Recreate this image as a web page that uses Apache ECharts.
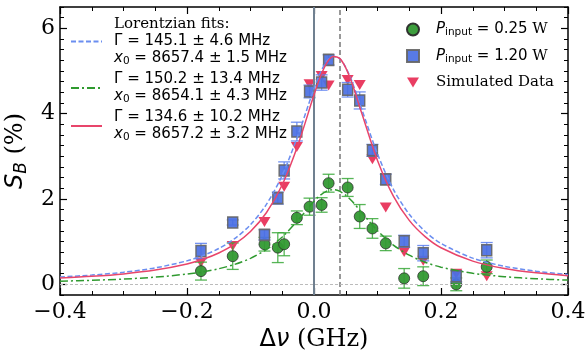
<!DOCTYPE html>
<html>
<head>
<meta charset="utf-8">
<script src="https://cdn.jsdelivr.net/npm/echarts@6/dist/echarts.min.js"></script>
<style>
  html, body { margin: 0; padding: 0; background: #fff; }
  #chart { width: 586px; height: 354px; }
</style>
</head>
<body>
<div id="chart"></div>
<script>
// detuning of the measured / simulated points (GHz)
const detuning = [-0.178, -0.128, -0.078, -0.057, -0.047, -0.027, -0.007, 0.012, 0.023, 0.053, 0.072, 0.092, 0.113, 0.142, 0.172, 0.224, 0.272]

// P_input = 0.25 W
const lowPower = [0.31, 0.66, 0.94, 0.86, 0.94, 1.56, 1.82, 1.86, 2.37, 2.27, 1.59, 1.31, 0.96, 0.14, 0.19, 0.0, 0.41]
const lowPowerErr = [0.21, 0.31, 0.16, 0.35, 0.27, 0.16, 0.2, 0.17, 0.21, 0.21, 0.28, 0.23, 0.17, 0.23, 0.22, 0.15, 0.16]

// P_input = 1.20 W
const highPower = [0.78, 1.45, 1.16, 2.02, 2.67, 3.58, 4.52, 4.73, 5.26, 4.56, 4.31, 3.14, 2.46, 1.01, 0.73, 0.19, 0.8]
const highPowerErr = [0.18, 0.06, 0.12, 0.14, 0.2, 0.22, 0.15, 0.18, 0.12, 0.17, 0.2, 0.14, 0.12, 0.14, 0.18, 0.13, 0.18]

// simulation (null = no point at that detuning)
const simulated = [0.51, 0.9, 1.46, null, 2.29, 3.22, 4.69, 4.88, 4.66, 4.79, 4.67, 2.93, 1.8, 0.76, 0.55, 0.25, 0.19]

// fitted curves
const fitX = [-0.4, -0.35, -0.3, -0.25, -0.2, -0.175, -0.15, -0.125, -0.1, -0.075, -0.05, -0.025, 0, 0.01, 0.02, 0.03, 0.04, 0.05, 0.06, 0.075, 0.1, 0.125, 0.15, 0.175, 0.2, 0.25, 0.3, 0.35, 0.4]
const fitHigh = [0.171, 0.217, 0.283, 0.385, 0.55, 0.673, 0.839, 1.07, 1.398, 1.872, 2.558, 3.503, 4.588, 4.96, 5.228, 5.347, 5.295, 5.083, 4.746, 4.115, 3.056, 2.226, 1.641, 1.239, 0.959, 0.614, 0.423, 0.307, 0.233]
const fitLow = [0.074, 0.094, 0.123, 0.168, 0.24, 0.293, 0.366, 0.467, 0.61, 0.815, 1.11, 1.508, 1.946, 2.089, 2.186, 2.22, 2.186, 2.089, 1.946, 1.686, 1.257, 0.921, 0.683, 0.518, 0.402, 0.259, 0.179, 0.131, 0.099]
const fitSim = [0.148, 0.188, 0.245, 0.334, 0.478, 0.587, 0.735, 0.941, 1.239, 1.678, 2.334, 3.28, 4.442, 4.867, 5.186, 5.341, 5.301, 5.075, 4.706, 4.02, 2.904, 2.067, 1.499, 1.119, 0.858, 0.544, 0.372, 0.269, 0.204]

// fit parameters shown in the legend (MHz)
const fitGamma = ["145.1 ± 4.6", "150.2 ± 13.4", "134.6 ± 10.2"]
const fitCenter = ["8657.4 ± 1.5", "8654.1 ± 4.3", "8657.2 ± 3.2"]

// reference lines: zero detuning and fitted centre
const refX = [0, 0.0373]

const yTicks = [0, 2, 4, 6]

const pts = (ys) => detuning.map((x, i) => [x, ys[i]]).filter((p) => p[1] !== null)
const curve = (ys) => fitX.map((x, i) => [x, ys[i]])

const fitLabel = (i, first) =>
  (first ? "{serif|Lorentzian fits:}\n" : "") +
  `{m|Γ = ${fitGamma[i]} MHz}\n{mi|x}{sub|0}{m| = ${fitCenter[i]} MHz}`

const legendRich = {
  serif: { fontFamily: "DejaVu Serif", fontSize: 15, lineHeight: 17, color: "#000" },
  m: { fontFamily: "DejaVu Sans", fontSize: 15, lineHeight: 17, color: "#000" },
  mi: { fontFamily: "DejaVu Sans", fontStyle: "italic", fontSize: 15, lineHeight: 17, color: "#000" },
  sub: { fontFamily: "DejaVu Sans", fontSize: 10.5, lineHeight: 17, color: "#000", verticalAlign: "bottom" },
}

const errorBars = (vals, errs, color) => ({
  type: "custom",
  z: 3,
  silent: true,
  data: detuning.map((x, i) => [x, vals[i], errs[i]]),
  renderItem: (params, api) => {
    const x = api.value(0)
    const y = api.value(1)
    const e = api.value(2)
    const top = api.coord([x, y + e])
    const bot = api.coord([x, y - e])
    const cap = 6
    const style = { stroke: color, lineWidth: 1.3, opacity: 0.85 }
    return {
      type: "group",
      children: [
        { type: "line", shape: { x1: top[0], y1: top[1], x2: bot[0], y2: bot[1] }, style },
        { type: "line", shape: { x1: top[0] - cap, y1: top[1], x2: top[0] + cap, y2: top[1] }, style },
        { type: "line", shape: { x1: bot[0] - cap, y1: bot[1], x2: bot[0] + cap, y2: bot[1] }, style },
      ],
    }
  },
})

const axisLine = { onZero: false, lineStyle: { color: "#000", width: 1.5 } }
const majorTick = { inside: true, length: 7, lineStyle: { color: "#000", width: 1.2 } }
const minorTickStyle = { color: "#000", width: 1 }
const tickFont = { fontFamily: "DejaVu Serif", fontSize: 22, color: "#000" }

const xBase = {
  type: "value",
  min: -0.4,
  max: 0.4,
  interval: 0.2,
  axisLine,
  axisTick: majorTick,
  minorTick: { show: true, splitNumber: 4, length: 4, lineStyle: minorTickStyle },
  splitLine: { show: false },
  minorSplitLine: { show: false },
}

const yMajor = (position, showLabels) => ({
  type: "value",
  min: -0.25,
  max: 6.5,
  position,
  axisLine,
  axisTick: { ...majorTick, customValues: yTicks },
  axisLabel: showLabels
    ? { ...tickFont, margin: 5, customValues: yTicks, formatter: (v) => String(v) }
    : { show: false },
  splitLine: { show: false },
})

const yMinor = (position) => ({
  type: "value",
  min: -0.25,
  max: 6.5,
  interval: 0.25,
  position,
  axisLine: { show: false, onZero: false },
  axisTick: { inside: true, length: 4, lineStyle: minorTickStyle },
  axisLabel: { show: false },
  splitLine: { show: false },
})

const chart = echarts.init(document.getElementById("chart"), null, { renderer: "canvas" })

chart.setOption({
  animation: false,
  backgroundColor: "#fff",
  grid: { left: 60, right: 18, top: 7, bottom: 59, containLabel: false, outerBoundsMode: "none" },
  legend: [
    {
      data: ["fitHigh", "fitLow", "fitSim"],
      orient: "vertical",
      left: 65,
      top: 12,
      itemWidth: 31,
      itemHeight: 10,
      itemGap: 5,
      selectedMode: false,
      itemStyle: { opacity: 0 },
      formatter: (name) => fitLabel(["fitHigh", "fitLow", "fitSim"].indexOf(name), name === "fitHigh"),
      textStyle: { padding: [0, 0, 0, 7], rich: legendRich },
    },
    {
      data: ["low", "high", "sim"],
      orient: "vertical",
      left: 401,
      top: 17,
      itemWidth: 12,
      itemHeight: 12,
      itemGap: 10.5,
      selectedMode: false,
      formatter: (name) =>
        name === "sim"
          ? "{serif|Simulated Data}"
          : `{mi|P}{sub|input}{m| = ${name === "low" ? "0.25" : "1.20"} }{serif|W}`,
      textStyle: { padding: [0, 0, 0, 12], rich: legendRich },
    },
  ],
  xAxis: [
    {
      ...xBase,
      position: "bottom",
      axisLabel: {
        ...tickFont,
        margin: 6,
        formatter: (v) => (v < 0 ? "−" : "") + Math.abs(v).toFixed(1),
      },
      name: "{d|Δ}{nu|ν}{t| (GHz)}",
      nameLocation: "middle",
      nameGap: 28,
      nameTextStyle: {
        rich: {
          d: { fontFamily: "DejaVu Sans", fontSize: 24, color: "#000" },
          nu: { fontFamily: "DejaVu Sans", fontStyle: "italic", fontSize: 24, color: "#000" },
          t: { fontFamily: "DejaVu Serif", fontSize: 24, color: "#000" },
        },
      },
    },
    { ...xBase, position: "top", axisLabel: { show: false } },
  ],
  yAxis: [
    {
      ...yMajor("left", true),
      name: "{s|S}{b|B}{t| (%)}",
      nameLocation: "middle",
      nameGap: 26,
      nameTextStyle: {
        rich: {
          s: { fontFamily: "DejaVu Sans", fontStyle: "italic", fontSize: 24, lineHeight: 28, color: "#000" },
          b: { fontFamily: "DejaVu Sans", fontStyle: "italic", fontSize: 17, lineHeight: 28, color: "#000", verticalAlign: "bottom" },
          t: { fontFamily: "DejaVu Serif", fontSize: 24, lineHeight: 28, color: "#000" },
        },
      },
    },
    yMinor("left"),
    yMajor("right", false),
    yMinor("right"),
  ],
  series: [
    {
      type: "line",
      z: 1,
      data: [],
      silent: true,
      markLine: {
        silent: true,
        symbol: "none",
        label: { show: false },
        animation: false,
        data: [
          { xAxis: refX[0], lineStyle: { color: "#708090", width: 2, type: "solid" } },
          { xAxis: refX[1], lineStyle: { color: "#777", width: 1.5, type: [5, 3] } },
          { yAxis: 0, lineStyle: { color: "#bbb", width: 1, type: [3, 2] } },
        ],
      },
    },
    {
      name: "sim",
      type: "scatter",
      z: 2,
      symbol: "path://M0,0L20,0L10,17Z",
      symbolSize: [12, 10],
      itemStyle: { color: "#e8335a", opacity: 0.95 },
      data: pts(simulated),
    },
    {
      name: "low",
      type: "scatter",
      z: 3,
      symbol: "circle",
      symbolSize: 11,
      itemStyle: { color: "#339933", borderColor: "#2a2a2a", borderWidth: 0.8, opacity: 0.95 },
      data: pts(lowPower),
    },
    errorBars(lowPower, lowPowerErr, "#3aa83a"),
    {
      name: "high",
      type: "scatter",
      z: 4,
      symbol: "rect",
      symbolSize: [10, 11],
      itemStyle: { color: "#4a6fe3", borderColor: "#666", borderWidth: 1.5, opacity: 0.92 },
      data: pts(highPower),
    },
    { ...errorBars(highPower, highPowerErr, "#5b7ff0"), z: 4 },
    {
      name: "fitHigh",
      type: "line",
      z: 5,
      smooth: 0.3,
      symbol: "none",
      lineStyle: { color: "#6b8ef0", width: 1.5, type: [5, 2.5] },
      itemStyle: { color: "#6b8ef0" },
      data: curve(fitHigh),
    },
    {
      name: "fitLow",
      type: "line",
      z: 5,
      smooth: 0.3,
      symbol: "none",
      lineStyle: { color: "#2f9a2f", width: 1.5, type: [8, 3, 2, 3] },
      itemStyle: { color: "#2f9a2f" },
      data: curve(fitLow),
    },
    {
      name: "fitSim",
      type: "line",
      z: 5,
      smooth: 0.3,
      symbol: "none",
      lineStyle: { color: "#e8456b", width: 1.5 },
      itemStyle: { color: "#e8456b" },
      data: curve(fitSim),
    },
  ],
})
</script>
</body>
</html>
